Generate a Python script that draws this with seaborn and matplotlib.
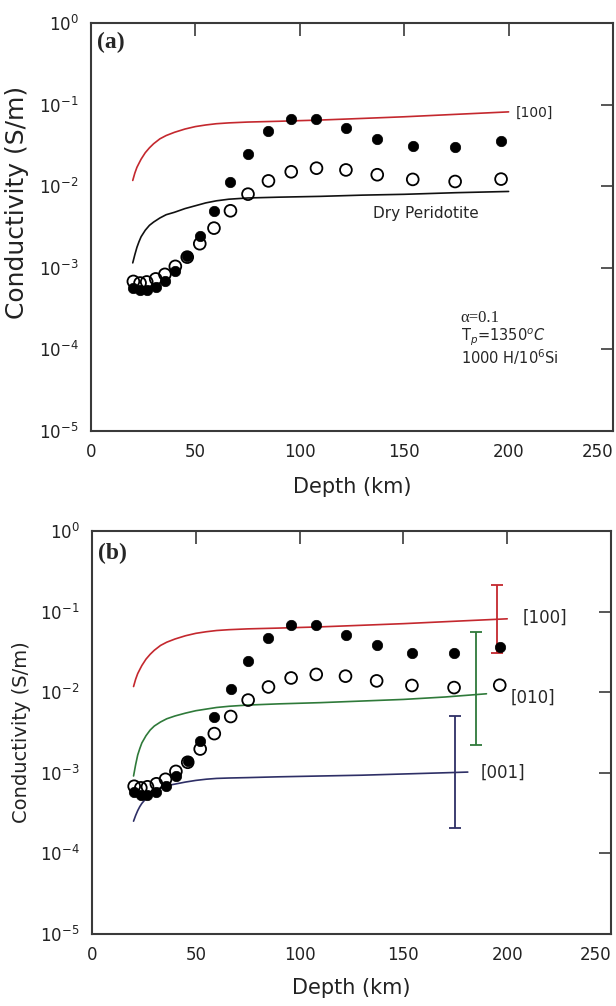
import numpy as np
import matplotlib
matplotlib.use("Agg")
import matplotlib.pyplot as plt
from matplotlib.ticker import FixedLocator, NullLocator, LogFormatterSciNotation
import seaborn as sns

# ---- data -------------------------------------------------------------
# model depths (km) and conductivities (S/m) of the sampled points
depth_pts = [20.3, 23.5, 26.7, 31.0, 35.4, 40.4, 46.1, 52.1, 58.9, 66.8,
             75.2, 85.0, 95.9, 108.0, 122.1, 137.1, 154.1, 174.4, 196.4]
sigma_filled = [5.7e-4, 5.3e-4, 5.3e-4, 5.8e-4, 6.8e-4, 9.1e-4, 1.38e-3, 2.47e-3,
                4.94e-3, 1.11e-2, 2.47e-2, 4.71e-2, 6.74e-2, 6.74e-2, 5.18e-2,
                3.80e-2, 3.09e-2, 3.03e-2, 3.59e-2]
sigma_open = [6.8e-4, 6.5e-4, 6.7e-4, 7.3e-4, 8.3e-4, 1.04e-3, 1.35e-3, 1.97e-3,
              3.06e-3, 4.99e-3, 7.98e-3, 1.16e-2, 1.50e-2, 1.66e-2, 1.58e-2,
              1.38e-2, 1.21e-2, 1.14e-2, 1.22e-2]

# olivine [100] and dry peridotite curves
depth_curve = [20, 21, 22, 23, 24, 26, 28, 30, 33, 36, 40, 45, 50, 55, 60, 66,
               75, 90, 110, 130, 150, 175, 200]
sigma_100 = [0.01175, 0.01445, 0.0170, 0.0191, 0.0214, 0.0257, 0.0295, 0.0331,
             0.0380, 0.0417, 0.0457, 0.0501, 0.0537, 0.0562, 0.0582, 0.0596,
             0.0610, 0.0624, 0.0646, 0.0676, 0.0708, 0.0759, 0.0813]
sigma_dry = [1.148e-3, 1.445e-3, 1.778e-3, 2.089e-3, 2.399e-3, 2.884e-3, 3.311e-3,
             3.631e-3, 4.074e-3, 4.467e-3, 4.786e-3, 5.309e-3, 5.754e-3, 6.237e-3,
             6.607e-3, 6.918e-3, 7.161e-3, 7.328e-3, 7.499e-3, 7.762e-3, 7.943e-3,
             8.318e-3, 8.610e-3]

# olivine [010] and [001] curves
depth_010 = [20, 21, 22, 23, 24, 26, 28, 30, 33, 36, 40, 45, 50, 55, 60, 66,
             75, 90, 110, 130, 150, 170, 190]
sigma_010 = [9.12e-4, 1.259e-3, 1.660e-3, 1.995e-3, 2.344e-3, 2.884e-3, 3.388e-3,
             3.802e-3, 4.266e-3, 4.677e-3, 5.070e-3, 5.495e-3, 5.888e-3, 6.166e-3,
             6.457e-3, 6.683e-3, 6.918e-3, 7.161e-3, 7.413e-3, 7.762e-3, 8.128e-3,
             8.710e-3, 9.550e-3]
depth_001 = [20, 21, 22, 23, 24, 26, 28, 30, 33, 36, 40, 45, 50, 55, 60, 66,
             75, 90, 110, 130, 150, 170, 181]
sigma_001 = [2.51e-4, 2.95e-4, 3.39e-4, 3.80e-4, 4.17e-4, 4.79e-4, 5.37e-4,
             5.89e-4, 6.46e-4, 6.92e-4, 7.24e-4, 7.67e-4, 8.04e-4, 8.32e-4,
             8.51e-4, 8.61e-4, 8.71e-4, 8.91e-4, 9.12e-4, 9.33e-4, 9.66e-4,
             1.00e-3, 1.02e-3]

# uncertainty ranges of the three orientations
bar_labels = ["[100]", "[010]", "[001]"]
bar_depth = [195.0, 185.2, 174.8]
bar_center = [0.079, 9.3e-3, 1.0e-3]
bar_low = [0.031, 2.2e-3, 2.06e-4]
bar_high = [0.216, 0.055, 5.0e-3]

x_ticks = [0, 50, 100, 150, 200, 250]
y_ticks = [1e-5, 1e-4, 1e-3, 1e-2, 1e-1, 1e0]

RED = "#c4282e"
GREEN = "#2f7a3a"
NAVY = "#2e2f66"
FRAME = "#3a3a3a"

# ---- style ------------------------------------------------------------
sns.set_theme(style="white")
plt.rcParams["font.family"] = ["DejaVu Sans"]
plt.rcParams["mathtext.fontset"] = "dejavusans"

fig = plt.figure(figsize=(6.16, 10.06), dpi=100)
ax_a = fig.add_axes([0.1477, 0.5716, 0.8474, 0.4056])
ax_b = fig.add_axes([0.1494, 0.0716, 0.8425, 0.4006])


def style_axes(ax, ylabel_size, ylabel_y, xlabel_y):
    ax.set_yscale("log")
    ax.set_xlim(0, 250)
    ax.set_ylim(1e-5, 1)
    ax.set_xticks(x_ticks, labels=[str(v) for v in x_ticks])
    ax.yaxis.set_major_locator(FixedLocator(y_ticks))
    ax.yaxis.set_major_formatter(LogFormatterSciNotation())
    ax.yaxis.set_minor_locator(NullLocator())
    ax.xaxis.set_minor_locator(NullLocator())
    ax.tick_params(which="major", direction="in", top=True, right=True,
                   length=9, width=1.2, color=FRAME, labelsize=12,
                   labelcolor="#222222", pad=9)
    # keep the last depth label inside the figure edge
    ax.get_xticklabels()[-1].set_horizontalalignment("right")
    ax.get_xticklabels()[-1].set_x(250)
    for sp in ax.spines.values():
        sp.set_visible(True)
        sp.set_color(FRAME)
        sp.set_linewidth(1.5)
    ax.set_xlabel("Depth (km)", fontsize=15, color="#222222")
    ax.set_ylabel("Conductivity (S/m)", fontsize=ylabel_size, color="#222222")
    ax.xaxis.set_label_coords(0.5, xlabel_y)
    ax.yaxis.set_label_coords(-0.118, ylabel_y)
    ax.grid(False)


def draw_points(ax):
    sns.scatterplot(x=depth_pts, y=sigma_open, ax=ax, marker="o", s=72,
                    facecolor="none", edgecolor="black", linewidth=1.3,
                    zorder=4, legend=False)
    sns.scatterplot(x=depth_pts, y=sigma_filled, ax=ax, marker="o", s=56,
                    color="black", edgecolor="black", linewidth=0.5,
                    zorder=5, legend=False)


# ---- panel (a) --------------------------------------------------------
sns.lineplot(x=depth_curve, y=sigma_100, ax=ax_a, color=RED, linewidth=1.2,
             sort=False, estimator=None)
sns.lineplot(x=depth_curve, y=sigma_dry, ax=ax_a, color="#111111", linewidth=1.2,
             sort=False, estimator=None)
draw_points(ax_a)
style_axes(ax_a, 18, 0.56, -0.113)

ax_a.text(0.012, 0.951, "(a)", transform=ax_a.transAxes, ha="left", va="center",
          fontsize=17, fontweight="bold", family="Liberation Serif")
ax_a.text(203.6, 10 ** -1.10, "[100]", fontsize=10, ha="left", va="center")
ax_a.text(135, 10 ** -2.34, "Dry Peridotite", fontsize=11, ha="left", va="center")
ax_a.text(177, 10 ** -3.62, "\u03b1=0.1", fontsize=12, ha="left", va="center",
          family="Liberation Serif")
ax_a.text(177, 10 ** -3.85, r"T$_p$=1350$^o$$C$", fontsize=10.5, ha="left",
          va="center")
ax_a.text(177, 10 ** -4.09, r"1000 H/10$^6$Si", fontsize=10.5, ha="left",
          va="center")

# ---- panel (b) --------------------------------------------------------
curve_sets = [(depth_curve, sigma_100, RED), (depth_010, sigma_010, GREEN),
              (depth_001, sigma_001, NAVY)]
for xs, ys, col in curve_sets:
    sns.lineplot(x=xs, y=ys, ax=ax_b, color=col, linewidth=1.2,
                 sort=False, estimator=None)

bar_colors = [RED, GREEN, NAVY]
for xb, yc, lo, hi, col in zip(bar_depth, bar_center, bar_low, bar_high,
                               bar_colors):
    ax_b.errorbar([xb], [yc], yerr=[[yc - lo], [hi - yc]], fmt="none",
                  ecolor=col, elinewidth=1.3, capsize=4.5, capthick=1.3,
                  zorder=3)

draw_points(ax_b)
style_axes(ax_b, 14, 0.5, -0.109)

ax_b.text(0.012, 0.945, "(b)", transform=ax_b.transAxes, ha="left", va="center",
          fontsize=17, fontweight="bold", family="Liberation Serif")
label_pos = [(207.6, 10 ** -1.08), (201.8, 10 ** -2.07), (187.4, 10 ** -3.0)]
for text, (xt, yt) in zip(bar_labels, label_pos):
    ax_b.text(xt, yt, text, fontsize=12, ha="left", va="center")

fig.savefig("out.png", dpi=100, facecolor="white")
